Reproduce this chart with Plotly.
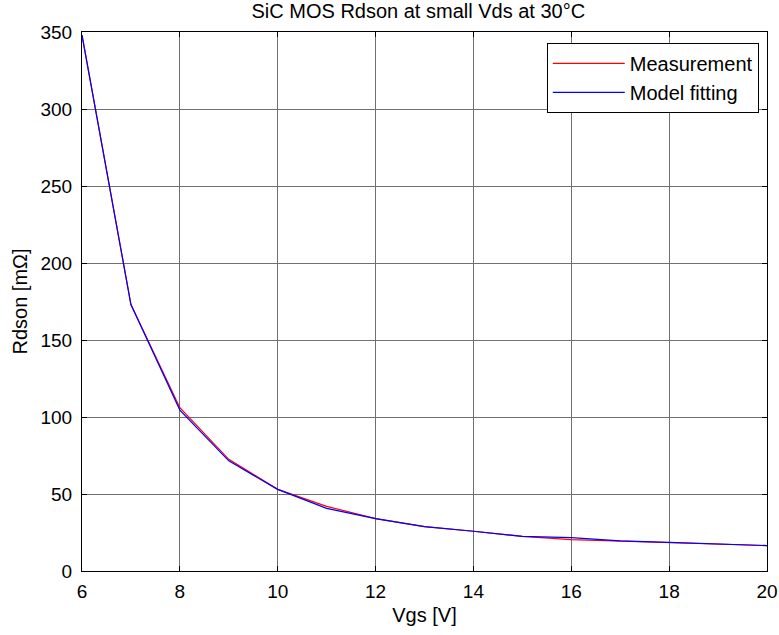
import plotly.graph_objects as go

vgs = [6, 7, 8, 9, 10, 11, 12, 13, 14, 15, 16, 17, 18, 19, 20]
rds_meas = [348, 173, 106, 72.5, 53, 42, 34, 28.8, 25.8, 22.5, 20.4, 19.5, 18.6, 17.5, 16.5]
rds_model = [348, 173, 104.5, 71.5, 53, 40.7, 34, 28.8, 25.8, 22.5, 21.7, 19.5, 18.6, 17.5, 16.5]

FONT = "Liberation Sans, Arial"

fig = go.Figure()
fig.add_trace(go.Scatter(x=vgs, y=rds_meas, mode="lines", name="Measurement",
                         line=dict(color="#ff0000", width=1.2)))
fig.add_trace(go.Scatter(x=vgs, y=rds_model, mode="lines", name="Model fitting",
                         line=dict(color="#0000ff", width=1.2)))

axis_common = dict(
    showline=True, linecolor="black", linewidth=1, mirror="ticks",
    ticks="inside", ticklen=5, tickcolor="black",
    showgrid=True, gridcolor="#707070", gridwidth=0.8,
    zeroline=False, automargin=False,
    tickfont=dict(family=FONT, size=19, color="black"),
)

fig.update_layout(
    width=779, height=635,
    margin=dict(l=82, r=12, t=32, b=64, autoexpand=False),
    paper_bgcolor="white", plot_bgcolor="white",
    title=dict(text="SiC MOS Rdson at small Vds at 30°C", x=0.537, xanchor="center",
               y=0.982, yanchor="middle", automargin=False,
               font=dict(family=FONT, size=20, color="black")),
    xaxis=dict(range=[6, 20], tickvals=[6, 8, 10, 12, 14, 16, 18, 20],
               ticklabelstandoff=3,
               title=dict(text="Vgs [V]", standoff=7,
                          font=dict(family=FONT, size=20, color="black")),
               **axis_common),
    yaxis=dict(range=[0, 350], tickvals=[0, 50, 100, 150, 200, 250, 300, 350],
               ticklabelstandoff=5,
               title=dict(text="Rdson [mΩ]", standoff=7,
                          font=dict(family=FONT, size=20, color="black")),
               **axis_common),
    legend=dict(x=0.988, y=0.98, xanchor="right", yanchor="top",
                bgcolor="white", bordercolor="black", borderwidth=1,
                font=dict(family=FONT, size=20, color="black"),
                itemwidth=72),
    showlegend=True,
)

fig.write_html("out.html", config={"displayModeBar": False},
               post_script="document.body.style.margin='0';")
